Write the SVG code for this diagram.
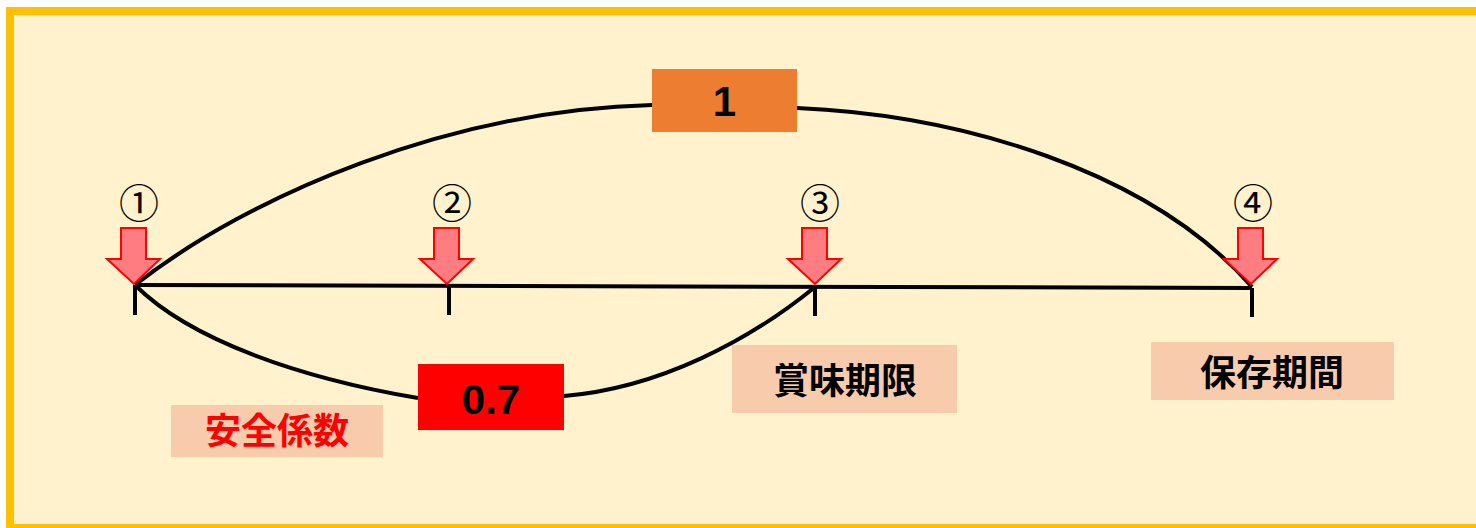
<svg xmlns="http://www.w3.org/2000/svg" width="1476" height="528" viewBox="0 0 1476 528">
<defs>
<style>
.cn{font-family:"Noto Sans CJK JP","Noto Sans",sans-serif;font-size:40px;text-anchor:middle}
.lbl{font-family:"Noto Sans CJK JP","Liberation Sans",sans-serif;font-size:36px;font-weight:bold;text-anchor:middle}
.num{font-family:"Liberation Sans",Arial,sans-serif;font-size:42px;font-weight:bold;text-anchor:middle;fill:#000}
.line{fill:none;stroke:#000;stroke-width:4}
.arrow{fill:#FF7C80;stroke:#FF0000;stroke-width:2;stroke-linejoin:miter}
.tag{fill:#F8CBAD}
</style>
<path id="dn" d="M-13,0 H12 V31 H26 L0,56 L-27,31 H-13 Z"/>
</defs>
<rect x="10" y="11" width="1476" height="517" fill="#FFF2CC" stroke="#FFC000" stroke-width="8"/>
<g id="connectors">
<path class="line" d="M135,285 L1252,288"/>
<path class="line" d="M135,285 V315 M449,286 V315 M815,287 V316 M1252,288 V317"/>
<path class="line" d="M135,285 C250,195 450,110 652,105"/>
<path class="line" d="M797,108 C960,115 1150,170 1252,287"/>
<path class="line" d="M135,285 C190,340 300,378 418,398"/>
<path class="line" d="M564,396 C660,388 750,340 815,287"/>
</g>
<g id="p1"><text class="cn" x="139" y="218">①</text><use href="#dn" class="arrow" transform="translate(134,228)"/></g>
<g id="p2"><text class="cn" x="452" y="218">②</text><use href="#dn" class="arrow" transform="translate(447,228)"/></g>
<g id="p3"><text class="cn" x="820" y="218">③</text><use href="#dn" class="arrow" transform="translate(815,228)"/></g>
<g id="p4"><text class="cn" x="1253" y="218">④</text><use href="#dn" class="arrow" transform="translate(1251,228)"/></g>
<g id="one"><rect x="652" y="69" width="145" height="63" fill="#ED7D31"/><text class="num" x="724.5" y="116">1</text></g>
<g id="zero7"><rect x="418" y="364" width="146" height="66" fill="#FF0000"/><text class="num" x="491" y="414">0.7</text></g>
<g id="anzen"><rect class="tag" x="171" y="405" width="212" height="52"/><text class="lbl" x="277" y="444" fill="#FF0000">安全係数</text></g>
<g id="shomi"><rect class="tag" x="732" y="345" width="225" height="68"/><text class="lbl" x="845" y="394" fill="#000">賞味期限</text></g>
<g id="hozon"><rect class="tag" x="1151" y="342" width="243" height="58"/><text class="lbl" x="1272" y="386" fill="#000">保存期間</text></g>
</svg>
